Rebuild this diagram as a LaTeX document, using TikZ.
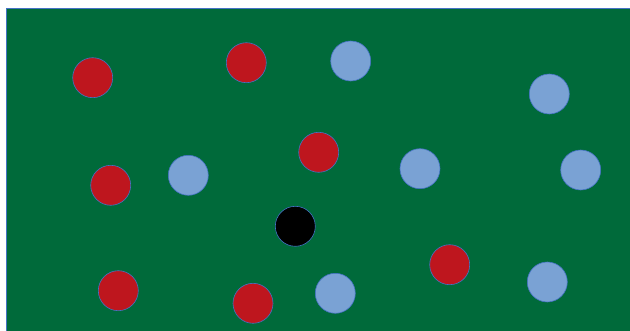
\documentclass[tikz,border=0pt]{standalone}
\definecolor{field}{RGB}{0,106,58}
\definecolor{redc}{RGB}{190,22,30}
\definecolor{bluec}{RGB}{122,162,212}
\definecolor{edgec}{RGB}{68,114,196}
\begin{document}
\begin{tikzpicture}[x=1pt,y=-1pt,
  dot/.style={circle,draw=edgec,line width=0.6pt,minimum size=40pt,inner sep=0pt},
  reddot/.style={dot,fill=redc},
  bluedot/.style={dot,fill=bluec},
  blackdot/.style={dot,fill=black}]
\useasboundingbox (0,0) rectangle (630,331);
\fill[white] (0,0) rectangle (630,331);
\clip (0,0) rectangle (630,331);
\filldraw[fill=field,draw=edgec,line width=0.8pt] (6.5,8.5) rectangle (640,340);
\node[reddot] (r1) at (92.7,77.7) {};
\node[reddot] (r2) at (246.3,62.7) {};
\node[reddot] (r3) at (318.7,152.3) {};
\node[reddot] (r4) at (110.7,185.3) {};
\node[reddot] (r5) at (118.3,290.7) {};
\node[reddot] (r6) at (253,303.3) {};
\node[reddot] (r7) at (449.7,264.7) {};
\node[bluedot] (b1) at (350.7,61) {};
\node[bluedot] (b2) at (549.3,94) {};
\node[bluedot] (b3) at (188.3,175.3) {};
\node[bluedot] (b4) at (420,168.7) {};
\node[bluedot] (b5) at (580.7,170) {};
\node[bluedot] (b6) at (335.3,293.3) {};
\node[bluedot] (b7) at (547.3,282) {};
\node[blackdot] (k1) at (295.3,226.3) {};
\end{tikzpicture}
\end{document}
